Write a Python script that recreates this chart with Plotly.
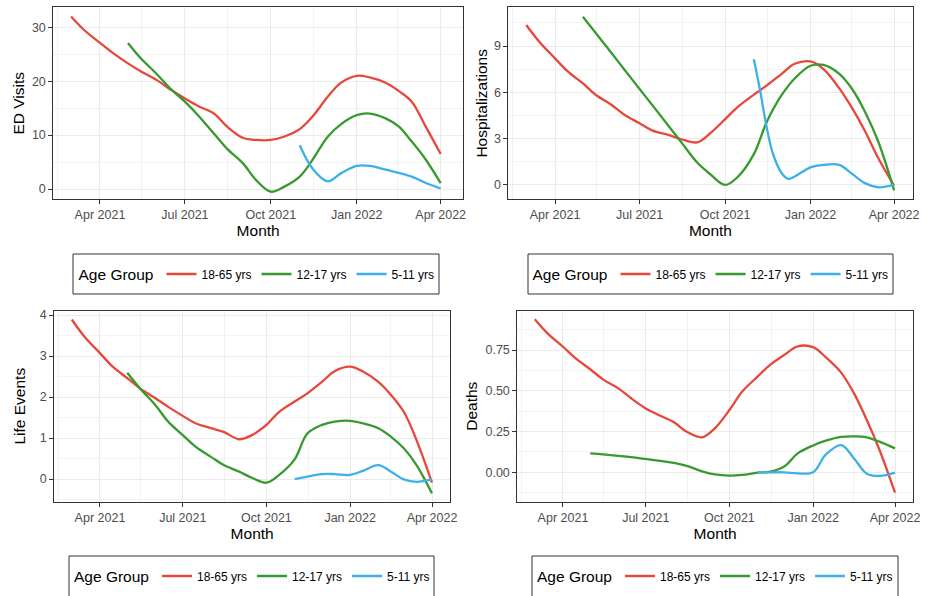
import plotly.graph_objects as go

# ---------------- data ----------------
AGE_GROUPS = ["18-65 yrs", "12-17 yrs", "5-11 yrs"]
LINE_COLORS = ["#E8473B", "#379A2E", "#3DB0EA"]

DATES_ADULT = [
    "2021-03-01", "2021-03-15", "2021-04-01", "2021-04-15", "2021-05-01", "2021-05-15",
    "2021-06-01", "2021-06-15", "2021-07-01", "2021-07-15", "2021-08-01", "2021-08-15",
    "2021-09-01", "2021-09-15", "2021-10-01", "2021-10-15", "2021-11-01", "2021-11-15",
    "2021-12-01", "2021-12-15", "2022-01-01", "2022-01-15", "2022-02-01", "2022-02-15",
    "2022-03-01", "2022-03-15", "2022-04-01",
]
DATES_TEEN = DATES_ADULT[4:]
DATES_CHILD = DATES_ADULT[16:]
DATES_CHILD_HOSP = [
    "2021-11-01", "2021-11-08", "2021-11-15", "2021-11-22", "2021-12-01", "2021-12-08",
    "2021-12-15", "2022-01-01", "2022-01-15", "2022-02-01", "2022-02-15", "2022-03-01",
    "2022-03-15", "2022-04-01",
]

ED_ADULT = [32.0, 29.5, 27.1, 25.2, 23.3, 21.8, 20.2, 18.5, 16.8, 15.4, 14.0, 11.6, 9.5,
            9.1, 9.1, 9.7, 11.1, 13.5, 17.1, 19.7, 21.0, 20.7, 19.7, 18.2, 16.2, 11.9, 6.5]
ED_TEEN = [27.1, 24.2, 21.3, 18.7, 16.2, 13.7, 10.3, 7.5, 4.8, 1.7, -0.5, 0.4, 2.3, 5.5,
           9.7, 12.0, 13.7, 14.0, 13.1, 11.6, 8.8, 5.7, 1.1]
ED_CHILD = [8.1, 3.7, 1.4, 2.9, 4.3, 4.3, 3.6, 3.0, 2.3, 1.2, 0.1]

HOSP_ADULT = [10.36, 9.28, 8.2, 7.34, 6.58, 5.83, 5.18, 4.53, 4.0, 3.52, 3.24, 2.96, 2.76,
              3.35, 4.25, 5.07, 5.85, 6.45, 7.2, 7.85, 8.0, 7.5, 6.26, 4.96, 3.45, 1.73, -0.05]
HOSP_TEEN = [10.9, 9.83, 8.53, 7.45, 6.22, 5.15, 3.84, 2.76, 1.45, 0.7, 0.0, 0.54, 2.0,
             4.1, 5.83, 6.9, 7.72, 7.78, 7.2, 6.2, 4.7, 2.8, -0.35]
HOSP_CHILD = [8.14, 6.04, 3.67, 1.94, 0.76, 0.39, 0.55, 1.14, 1.3, 1.3, 0.7, 0.1, -0.15, 0.0]

LIFE_ADULT = [3.89, 3.47, 3.07, 2.74, 2.46, 2.21, 1.97, 1.76, 1.54, 1.36, 1.24, 1.15, 0.97,
              1.07, 1.32, 1.64, 1.89, 2.09, 2.37, 2.63, 2.74, 2.62, 2.37, 2.05, 1.64, 0.95, -0.09]
LIFE_TEEN = [2.59, 2.21, 1.80, 1.40, 1.07, 0.79, 0.54, 0.34, 0.18, 0.03, -0.09, 0.10, 0.48,
             1.11, 1.32, 1.40, 1.42, 1.36, 1.24, 1.03, 0.75, 0.34, -0.35]
LIFE_CHILD = [0.0, 0.06, 0.12, 0.12, 0.10, 0.20, 0.34, 0.18, -0.01, -0.07, -0.01]

DEATH_ADULT = [0.938, 0.852, 0.770, 0.699, 0.632, 0.570, 0.515, 0.454, 0.392, 0.352, 0.307,
               0.249, 0.215, 0.270, 0.382, 0.495, 0.587, 0.660, 0.723, 0.772, 0.768, 0.705,
               0.610, 0.484, 0.321, 0.137, -0.125]
DEATH_TEEN = [0.116, 0.110, 0.101, 0.093, 0.082, 0.072, 0.058, 0.040, 0.006, -0.013, -0.020,
              -0.016, -0.002, 0.004, 0.039, 0.116, 0.165, 0.194, 0.217, 0.221, 0.215, 0.188, 0.147]
DEATH_CHILD = [0.0, 0.0, 0.0, -0.006, 0.0, 0.11, 0.167, 0.085, -0.008, -0.022, -0.002]

Y_TITLES = ["ED Visits", "Hospitalizations", "Life Events", "Deaths"]
X_TITLE = "Month"
LEGEND_TITLE = "Age Group"
X_TICKS = ["2021-04-01", "2021-07-01", "2021-10-01", "2022-01-01", "2022-04-01"]
X_TICK_LABELS = ["Apr 2021", "Jul 2021", "Oct 2021", "Jan 2022", "Apr 2022"]
X_MINOR = ["2021-02-14", "2021-05-16", "2021-08-16", "2021-11-16", "2022-02-14"]

SERIES = [
    [(DATES_ADULT, ED_ADULT), (DATES_TEEN, ED_TEEN), (DATES_CHILD, ED_CHILD)],
    [(DATES_ADULT, HOSP_ADULT), (DATES_TEEN, HOSP_TEEN), (DATES_CHILD_HOSP, HOSP_CHILD)],
    [(DATES_ADULT, LIFE_ADULT), (DATES_TEEN, LIFE_TEEN), (DATES_CHILD, LIFE_CHILD)],
    [(DATES_ADULT, DEATH_ADULT), (DATES_TEEN, DEATH_TEEN), (DATES_CHILD, DEATH_CHILD)],
]

# ---------------- layout ----------------
W, H = 929, 596
FONT = "Liberation Sans, Arial, sans-serif"


def px(xp):
    return xp / W


def py(yp):
    return 1 - yp / H


PANELS = [
    dict(xd=(53.3, 463.0), yd=(7.3, 199.3), xr=["2021-02-10", "2022-04-24 22:00"],
         yr=[-1.91, 33.71], dtick=10, minor0=5, fmt="", box=(73, 254, 439, 294),
         leg=(258, 275), ysoff=3),
    dict(xd=(508.4, 912.5), yd=(7.3, 199.3), xr=["2021-02-09 19:00", "2022-04-20 19:00"],
         yr=[-0.93, 11.51], dtick=3, minor0=1.5, fmt="", box=(528, 254, 893, 294),
         leg=(712, 275), ysoff=2),
    dict(xd=(54.3, 450.0), yd=(310.7, 501.7), xr=["2021-02-09 19:00", "2022-04-20 19:00"],
         yr=[-0.553, 4.105], dtick=1, minor0=-0.5, fmt="", box=(69, 556, 434, 604),
         leg=(253.5, 577), ysoff=10),
    dict(xd=(517.3, 913.0), yd=(310.7, 501.7), xr=["2021-02-09 19:00", "2022-04-20 19:00"],
         yr=[-0.18, 0.991], dtick=0.25, minor0=-0.125, fmt=".2f", box=(532, 556, 898, 604),
         leg=(716.5, 577), ysoff=4),
]

fig = go.Figure()
layout = dict(
    width=W, height=H,
    margin=dict(l=0, r=0, t=0, b=0, autoexpand=False),
    paper_bgcolor="white", plot_bgcolor="white",
    font=dict(family=FONT, color="#000000"),
    shapes=[],
)

for i, (panel, series) in enumerate(zip(PANELS, SERIES)):
    n = "" if i == 0 else str(i + 1)
    leg = "legend" if i == 0 else f"legend{i + 1}"
    for name, color, (xs, ys) in zip(AGE_GROUPS, LINE_COLORS, series):
        fig.add_trace(go.Scatter(
            x=xs, y=ys, name=name, mode="lines",
            line=dict(color=color, width=2.3, shape="spline", smoothing=1.0),
            xaxis=f"x{n}", yaxis=f"y{n}", legend=leg, showlegend=True,
        ))
    axis_common = dict(
        showline=True, mirror=True, linecolor="#333333", linewidth=1,
        ticks="outside", ticklen=4, tickwidth=1, tickcolor="#333333",
        tickfont=dict(family=FONT, size=12.5, color="#4D4D4D"),
        ticklabeloverflow="allow",
        showgrid=True, gridcolor="#EBEBEB", gridwidth=1, zeroline=False,
    )
    layout[f"xaxis{n}"] = dict(
        axis_common, type="date",
        domain=[px(panel["xd"][0]), px(panel["xd"][1])],
        range=panel["xr"], anchor=f"y{n}",
        tickmode="array", tickvals=X_TICKS, ticktext=X_TICK_LABELS,
        minor=dict(showgrid=True, gridcolor="#F3F3F3", gridwidth=0.7,
                   tickmode="array", tickvals=X_MINOR),
        title=dict(text=X_TITLE, font=dict(family=FONT, size=15.5, color="#000000"), standoff=2),
    )
    layout[f"yaxis{n}"] = dict(
        axis_common,
        domain=[py(panel["yd"][1]), py(panel["yd"][0])],
        range=panel["yr"], anchor=f"x{n}",
        tick0=0, dtick=panel["dtick"], tickformat=panel["fmt"],
        minor=dict(showgrid=True, gridcolor="#F3F3F3", gridwidth=0.7,
                   tick0=panel["minor0"], dtick=panel["dtick"]),
        title=dict(text=Y_TITLES[i], font=dict(family=FONT, size=15.5, color="#000000"),
                   standoff=panel["ysoff"]),
    )
    layout[leg] = dict(
        orientation="h", x=px(panel["leg"][0]), y=py(panel["leg"][1]),
        xanchor="center", yanchor="middle", valign="middle",
        title=dict(text=LEGEND_TITLE, side="left",
                   font=dict(family=FONT, size=15.5, color="#000000")),
        font=dict(family=FONT, size=12, color="#000000"),
        bgcolor="rgba(0,0,0,0)", borderwidth=0, itemwidth=30,
    )
    x0, y0, x1, y1 = panel["box"]
    layout["shapes"].append(dict(
        type="rect", xref="paper", yref="paper",
        x0=px(x0), x1=px(x1), y0=py(y1), y1=py(y0),
        line=dict(color="#333333", width=1), fillcolor="rgba(0,0,0,0)", layer="below",
    ))

fig.update_layout(**layout)
fig.write_html(
    "out.html",
    config={"displayModeBar": False},
    post_script="document.body.style.margin='0px';document.body.style.overflow='hidden';",
)
